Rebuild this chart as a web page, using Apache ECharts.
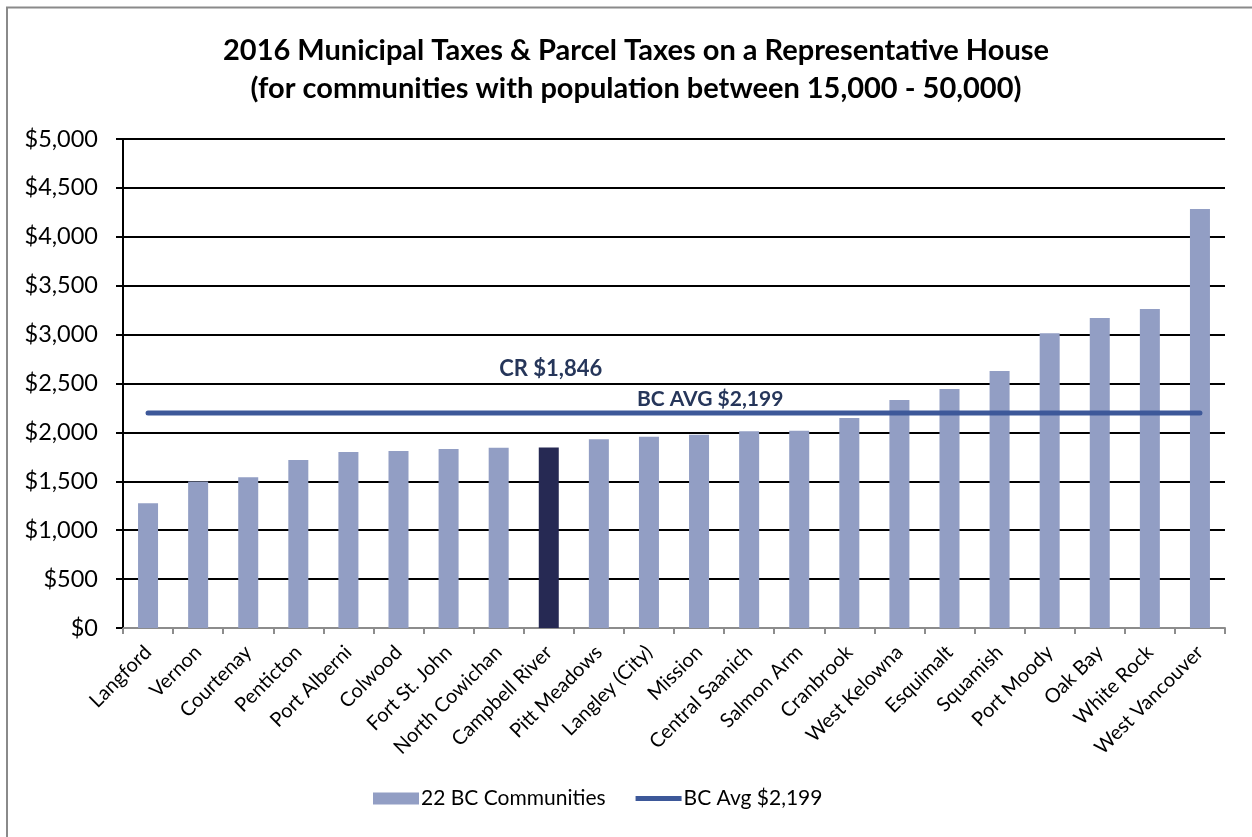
<!DOCTYPE html>
<html>
<head>
<meta charset="utf-8">
<script src="https://cdn.jsdelivr.net/npm/echarts@6/dist/echarts.min.js"></script>
<style>
  html, body { margin: 0; padding: 0; background: #fff; }
  #chart { width: 1252px; height: 837px; }
</style>
</head>
<body>
<div id="chart"></div>
<script>
// Communities, sorted by municipal + parcel tax on a representative house
const communities = [
  'Langford', 'Vernon', 'Courtenay', 'Penticton', 'Port Alberni', 'Colwood',
  'Fort St. John', 'North Cowichan', 'Campbell River', 'Pitt Meadows',
  'Langley (City)', 'Mission', 'Central Saanich', 'Salmon Arm', 'Cranbrook',
  'West Kelowna', 'Esquimalt', 'Squamish', 'Port Moody', 'Oak Bay',
  'White Rock', 'West Vancouver'
];
const taxes = [
  1275, 1497, 1541, 1718, 1800, 1810,
  1830, 1844, 1846, 1929,
  1956, 1975, 2011, 2018, 2147,
  2331, 2444, 2628, 3013, 3170,
  3262, 4284
];
const highlighted = 'Campbell River';
const bcAverage = 2199;
const yTicks = { min: 0, max: 5000, interval: 500 };

const FONT = 'Lato, "Open Sans", sans-serif';
const BAR = '#929ec4';
const BAR_DARK = '#262953';
const LINE = '#3d5899';
const LABEL = '#26365a';

const chart = echarts.init(document.getElementById('chart'), null, { renderer: 'canvas' });

const barData = communities.map((c, i) => ({
  value: taxes[i],
  itemStyle: { color: c === highlighted ? BAR_DARK : BAR }
}));
const crValue = taxes[communities.indexOf(highlighted)];

chart.setOption({
  backgroundColor: '#ffffff',
  animation: false,
  title: {
    text: '2016 Municipal Taxes & Parcel Taxes on a Representative House\n(for communities with population between 15,000 - 50,000)',
    left: 631,
    top: 27,
    textAlign: 'center',
    textStyle: {
      fontFamily: FONT, fontWeight: 'bold', fontSize: 29, color: '#000',
      lineHeight: 38
    }
  },
  grid: { left: 123, right: 27, top: 139, bottom: 209, containLabel: false },
  legend: {
    bottom: 23,
    left: 368,
    itemGap: 30,
    itemWidth: 46,
    itemHeight: 12,
    textStyle: { fontFamily: FONT, fontSize: 21, color: '#000', padding: [0, 0, 0, -3] },
    data: [
      { name: '22 BC Communities', icon: 'rect', itemStyle: { color: BAR } },
      { name: 'BC Avg $2,199', icon: 'path://M0,0 L46,0 L46,5 L0,5 Z', itemStyle: { color: LINE } }
    ]
  },
  xAxis: {
    type: 'category',
    data: communities,
    boundaryGap: true,
    axisLine: { lineStyle: { color: '#8c8c8c', width: 2 } },
    axisTick: { show: true, length: 6, alignWithLabel: false, lineStyle: { color: '#8c8c8c', width: 2 } },
    axisLabel: {
      interval: 0, rotate: 45, margin: 21,
      fontFamily: FONT, fontSize: 20, color: '#000'
    }
  },
  yAxis: {
    type: 'value',
    min: yTicks.min, max: yTicks.max, interval: yTicks.interval,
    axisLine: { show: true, lineStyle: { color: '#000', width: 2 } },
    axisTick: { show: true, length: 7, lineStyle: { color: '#000', width: 2 } },
    axisLabel: {
      margin: 25, fontFamily: FONT, fontSize: 23.5, color: '#000',
      formatter: v => '$' + v.toLocaleString('en-US')
    },
    splitLine: { show: true, lineStyle: { color: '#000', width: 2 } }
  },
  series: [
    {
      name: '22 BC Communities',
      type: 'bar',
      data: barData,
      barWidth: 20,
      itemStyle: { color: BAR },
      z: 2
    },
    {
      name: 'BC Avg $2,199',
      type: 'line',
      data: communities.map(() => bcAverage),
      symbol: 'none',
      lineStyle: { color: LINE, width: 5, cap: 'round' },
      itemStyle: { color: LINE },
      z: 3,
      markPoint: {
        symbol: 'rect',
        symbolSize: 1,
        itemStyle: { color: 'rgba(0,0,0,0)' },
        label: {
          show: true, fontFamily: FONT, fontWeight: 'bold', color: LABEL,
          position: 'top'
        },
        data: [
          {
            name: 'cr', coord: [highlighted, 2500],
            label: { formatter: 'CR $' + crValue.toLocaleString('en-US'), fontSize: 22, distance: 3, offset: [2, 0] }
          },
          {
            name: 'avg', coord: ['Central Saanich', bcAverage],
            label: { formatter: 'BC AVG $' + bcAverage.toLocaleString('en-US'), fontSize: 21, distance: 3, offset: [-39, 0] }
          }
        ]
      }
    }
  ],
  graphic: [
    {
      type: 'polyline',
      shape: { points: [[7, 840], [7, 7.5], [1260, 7.5]] },
      style: { stroke: '#8a8a8a', lineWidth: 2, fill: null },
      silent: true
    }
  ]
});
</script>
</body>
</html>
